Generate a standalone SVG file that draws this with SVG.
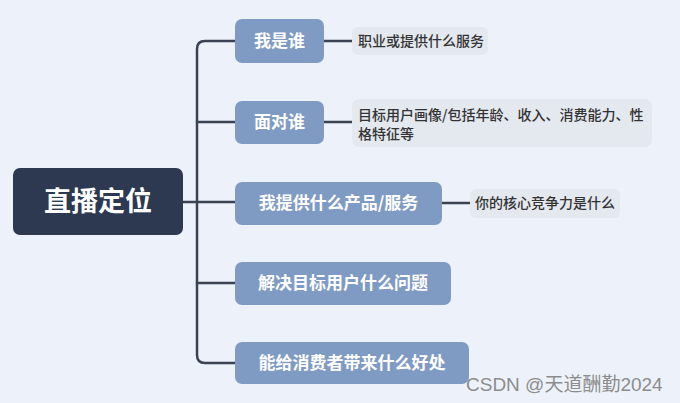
<svg xmlns="http://www.w3.org/2000/svg" width="680" height="403" viewBox="0 0 680 403">
<style>
.root{fill:#2c3950}
.br{fill:#7f9bc3}
.lf{fill:#e4e8ef}
.rt{font-family:"Noto Sans CJK SC","Noto Sans",sans-serif;font-size:27px;font-weight:bold;fill:#ffffff}
.bt{font-family:"Noto Sans CJK SC","Noto Sans",sans-serif;font-size:17px;font-weight:bold;fill:#ffffff}
.lt{font-family:"Noto Sans CJK SC","Noto Sans",sans-serif;font-size:14px;font-weight:500;fill:#333333}
.wm{font-family:"Liberation Sans","Noto Sans CJK SC",sans-serif;font-size:19px;fill:#8c8c8c}
.ln{fill:none;stroke:#3b4252;stroke-width:2.5;stroke-linecap:round}
</style>
<rect width="680" height="403" fill="#edf2fa"/>
<g id="connectors">
<path class="ln" d="M235,41 H205 Q197,41 197,49 V355 Q197,363 205,363 H235"/>
<path class="ln" d="M183,202 H235"/>
<path class="ln" d="M197,122 H235"/>
<path class="ln" d="M197,283 H235"/>
<path class="ln" d="M324,41 H352"/>
<path class="ln" d="M324,122 H352"/>
<path class="ln" d="M442,203 H470"/>
</g>
<g id="root">
<rect class="root" x="13" y="168" width="170" height="67" rx="7"/>
<text class="rt" x="98" y="211" text-anchor="middle">直播定位</text>
</g>
<g id="n1">
<rect class="br" x="235" y="19" width="89" height="44" rx="7"/>
<text class="bt" x="279.5" y="47" text-anchor="middle">我是谁</text>
</g>
<g id="n2">
<rect class="br" x="235" y="101" width="89" height="43" rx="7"/>
<text class="bt" x="279.5" y="128" text-anchor="middle">面对谁</text>
</g>
<g id="n3">
<rect class="br" x="235" y="182" width="207" height="43" rx="7"/>
<text class="bt" x="338.5" y="209" text-anchor="middle">我提供什么产品/服务</text>
</g>
<g id="n4">
<rect class="br" x="235" y="262" width="216" height="43" rx="7"/>
<text class="bt" x="343" y="289" text-anchor="middle">解决目标用户什么问题</text>
</g>
<g id="n5">
<rect class="br" x="235" y="342" width="234" height="42" rx="7"/>
<text class="bt" x="352" y="369" text-anchor="middle">能给消费者带来什么好处</text>
</g>
<g id="l1">
<rect class="lf" x="352" y="27" width="136" height="28" rx="6"/>
<text class="lt" x="358" y="46">职业或提供什么服务</text>
</g>
<g id="l2">
<rect class="lf" x="352" y="99" width="300" height="48" rx="7"/>
<text class="lt" x="358" y="120">目标用户画像/包括年龄、收入、消费能力、性</text>
<text class="lt" x="358" y="139">格特征等</text>
</g>
<g id="l3">
<rect class="lf" x="470" y="189" width="150" height="29" rx="6"/>
<text class="lt" x="475" y="208">你的核心竞争力是什么</text>
</g>
<text class="wm" x="466" y="391">CSDN @天道酬勤2024</text>
</svg>
